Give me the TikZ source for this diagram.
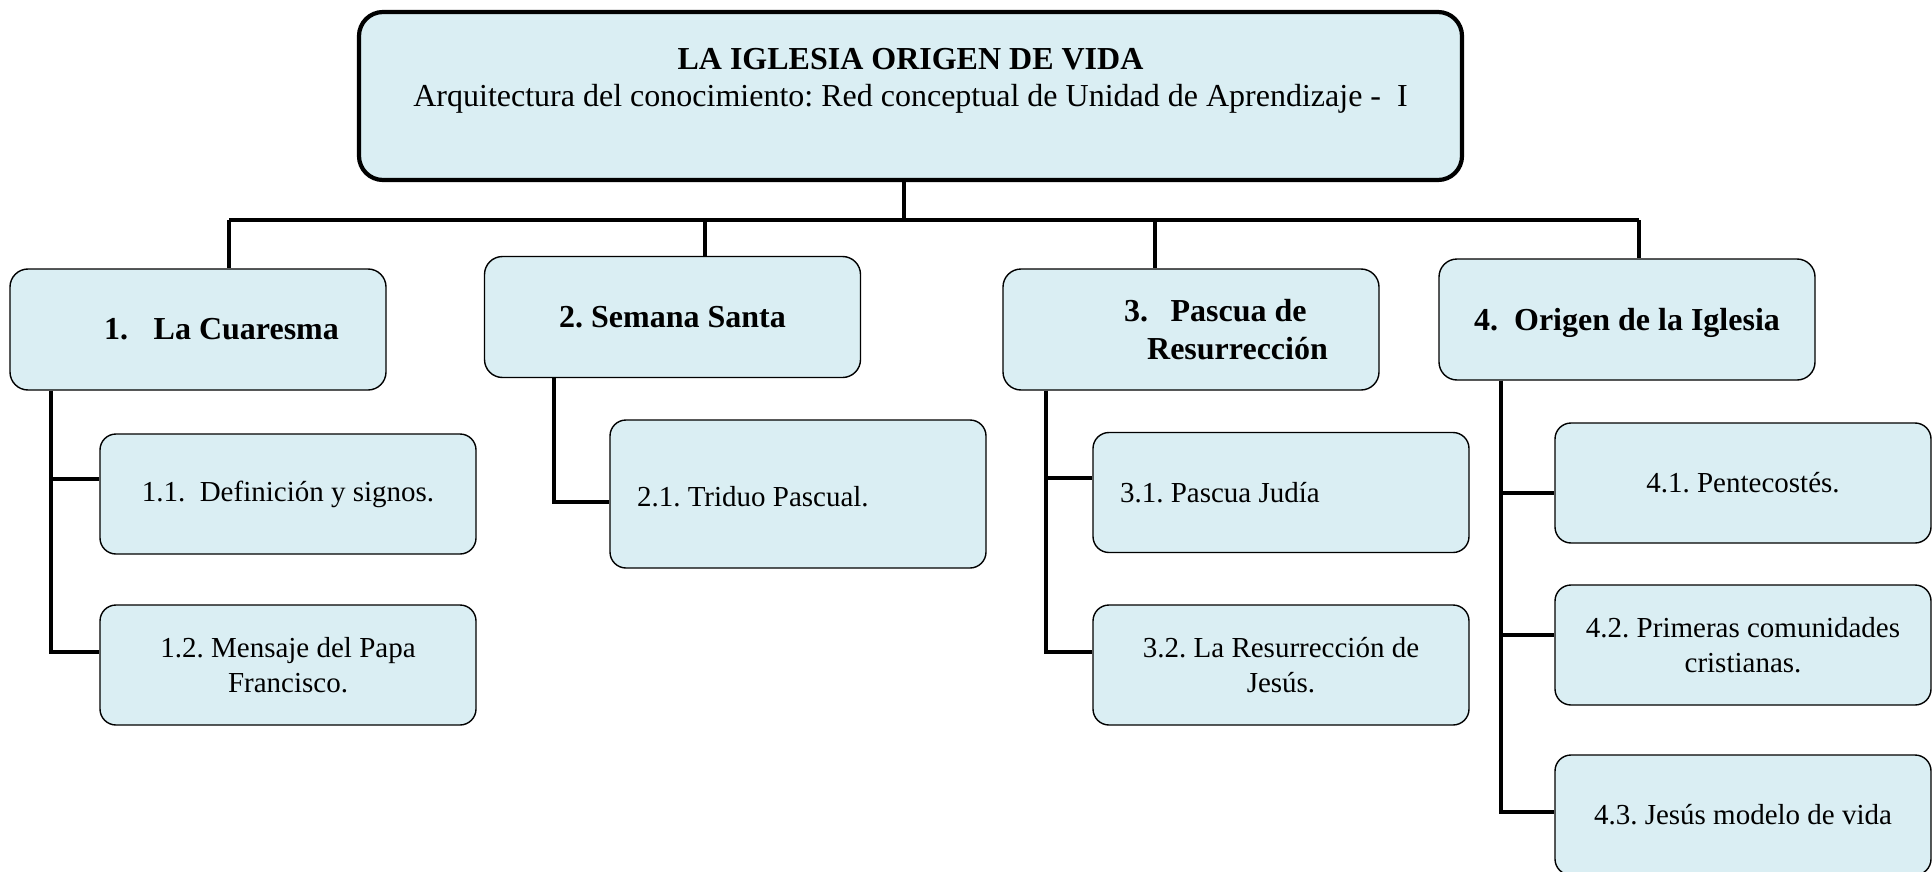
\documentclass[tikz,border=0pt]{standalone}
\usepackage{fontspec}
\setmainfont{Liberation Serif}
\frenchspacing
\definecolor{boxblue}{HTML}{DAEEF3}

\tikzset{
  topbox/.style={draw, line width=2.1pt, rounded corners=12pt, fill=boxblue,
    minimum width=551.5pt, minimum height=84pt, align=center,
    font=\fontsize{16}{18.5}\selectfont},
  headbox/.style={draw, line width=0.7pt, rounded corners=9pt, fill=boxblue,
    minimum width=188pt, minimum height=60.5pt, align=center,
    font=\fontsize{16}{19}\selectfont\bfseries},
  subbox/.style={draw, line width=0.7pt, rounded corners=8pt, fill=boxblue,
    minimum width=188pt, minimum height=60pt, align=center,
    font=\fontsize{14.5}{17.5}\selectfont},
  subleft/.style={align=flush left, inner xsep=13.5pt, text width=161pt},
  link/.style={line width=1.8pt},
}

\begin{document}
\begin{tikzpicture}[x=0.5pt, y=-0.5pt]
\useasboundingbox (0,0) rectangle (1932,872);

% main box
\node[topbox] (top) at (910.5,96) {\textbf{LA IGLESIA ORIGEN DE VIDA}\\Arquitectura del conocimiento: Red conceptual de Unidad de Aprendizaje -\ \ I\\\mbox{}};

% units
\node[headbox] (u1) at (198,329.5) {\hspace*{23.5pt}1.\hspace{0.8em}La Cuaresma};
\node[headbox] (u2) at (672.5,317) {2. Semana Santa};
\node[headbox, align=flush left] (u3) at (1191,329.5) {\hspace*{35pt}3.\hspace{0.7em}Pascua de\\\hspace*{46.5pt}Resurrección};
\node[headbox, text depth=0pt] (u4) at (1627,319.5) {4.\ \ Origen de la Iglesia};

% topics
\node[subbox] (s11) at (288,494) {1.1.\ \ Definición y signos.};
\node[subbox] (s12) at (288,665) {1.2. Mensaje del Papa\\Francisco.};
\node[subbox, subleft, minimum height=74pt, text height=12pt, text depth=0pt] (s21) at (798,494) {2.1. Triduo Pascual.};
\node[subbox, subleft] (s31) at (1281,492.5) {3.1. Pascua Judía};
\node[subbox] (s32) at (1281,665) {3.2. La Resurrección de\\Jesús.};
\node[subbox] (s41) at (1743,483) {4.1. Pentecostés.};
\node[subbox] (s42) at (1743,645) {4.2. Primeras comunidades\\cristianas.};
\node[subbox] (s43) at (1743,815) {4.3. Jesús modelo de vida};

% bus
\coordinate (j0) at (904,220);
\coordinate (jl) at (229,220);
\coordinate (j2) at (705,220);
\coordinate (j3) at (1155,220);
\coordinate (jr) at (1639,220);
\draw[link] (j0 |- top.south) -- (j0);
\draw[link] (jl) -- (jr);
\draw[link] (jl) -- (jl |- u1.north);
\draw[link] (j2) -- (j2 |- u2.north);
\draw[link] (j3) -- (j3 |- u3.north);
\draw[link] (jr) -- (jr |- u4.north);

% trunks
\coordinate (k1) at (51,0);
\coordinate (k2) at (554,0);
\coordinate (k3) at (1046,0);
\coordinate (k4) at (1501,0);
\draw[link] (k1 |- u1.south) |- ([yshift=7.5pt]s11.west);
\draw[link] (k1 |- u1.south) |- ([yshift=6.5pt]s12.west);
\draw[link] (k2 |- u2.south) |- ([yshift=-4pt]s21.west);
\draw[link] (k3 |- u3.south) |- ([yshift=7.25pt]s31.west);
\draw[link] (k3 |- u3.south) |- ([yshift=6.5pt]s32.west);
\draw[link] (k4 |- u4.south) |- ([yshift=-5pt]s41.west);
\draw[link] (k4 |- u4.south) |- ([yshift=5pt]s42.west);
\draw[link] (k4 |- u4.south) |- ([yshift=1.5pt]s43.west);
\end{tikzpicture}
\end{document}
